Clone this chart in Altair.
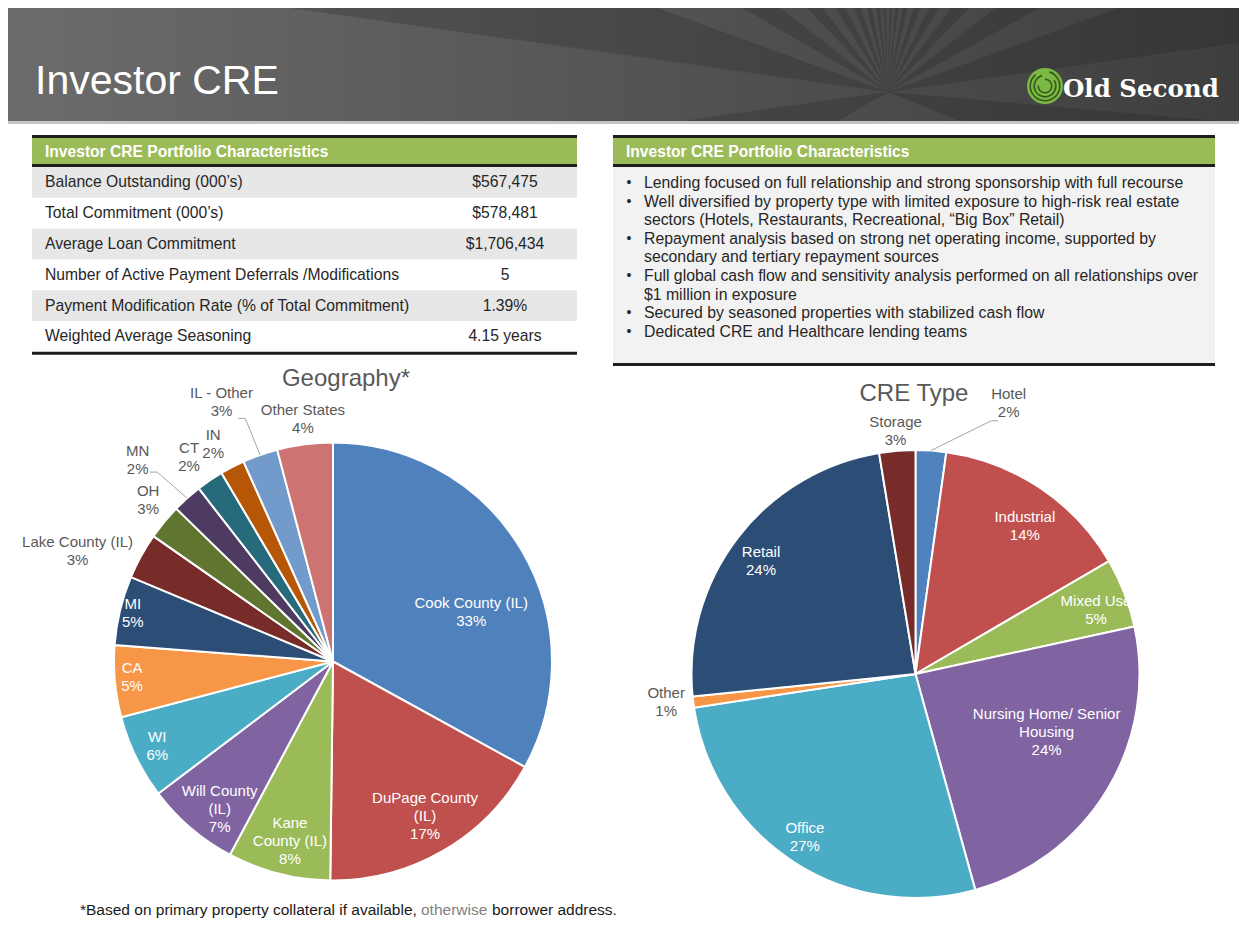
import math
import altair as alt
import pandas as pd

# ======================= data =======================
SLIDE_TITLE = "Investor CRE"
LOGO_TEXT = "Old Second"
BOX_TITLE = "Investor CRE  Portfolio Characteristics"

TABLE_LABELS = [
    "Balance Outstanding (000’s)",
    "Total Commitment (000’s)",
    "Average  Loan Commitment",
    "Number of Active  Payment Deferrals /Modifications",
    "Payment Modification Rate (% of Total Commitment)",
    "Weighted Average  Seasoning",
]
TABLE_VALUES = ["$567,475", "$578,481", "$1,706,434", "5", "1.39%", "4.15 years"]

BULLET_MARKS = ["•", "•", "", "•", "", "•", "", "•", "•"]
BULLET_LINES = [
    "Lending focused on full relationship and strong sponsorship with full recourse",
    "Well diversified by property type  with limited exposure to high-risk real estate",
    "sectors (Hotels, Restaurants, Recreational, “Big Box”  Retail)",
    "Repayment analysis based on strong net operating income, supported by",
    "secondary and tertiary  repayment sources",
    "Full global cash flow and sensitivity analysis performed on all relationships over",
    "$1 million in exposure",
    "Secured by  seasoned properties with stabilized cash flow",
    "Dedicated CRE and Healthcare lending teams",
]

GEO_TITLE = "Geography*"
GEO_NAMES = ["Cook County (IL)", "DuPage County (IL)", "Kane County (IL)", "Will County (IL)",
             "WI", "CA", "MI", "Lake County (IL)", "OH", "MN", "CT", "IN", "IL - Other", "Other States"]
GEO_LABELS = ["Cook County (IL)", "DuPage County\n(IL)", "Kane\nCounty (IL)", "Will County\n(IL)",
              "WI", "CA", "MI", "Lake County (IL)", "OH", "MN", "CT", "IN", "IL - Other", "Other States"]
GEO_VALUES = [33.0, 17.2, 7.6, 6.9, 6.2, 5.3, 5.1, 3.4, 2.6, 2.2, 2.0, 1.8, 2.6, 4.1]
GEO_COLORS = ["#4F81BD", "#C0504D", "#9BBB59", "#8064A2", "#4BACC6", "#F79646", "#2C4D75",
              "#772C2A", "#5F7530", "#4D3B62", "#276A7C", "#B65708", "#729ACA", "#CD7371"]

CRE_TITLE = "CRE Type"
CRE_NAMES = ["Hotel", "Industrial", "Mixed Use", "Nursing Home/ Senior Housing", "Office",
             "Other", "Retail", "Storage"]
CRE_LABELS = ["Hotel", "Industrial", "Mixed Use", "Nursing Home/ Senior\nHousing", "Office",
              "Other", "Retail", "Storage"]
CRE_VALUES = [2.2, 14.4, 5.0, 24.1, 26.9, 0.8, 24.0, 2.6]
CRE_COLORS = ["#4F81BD", "#C0504D", "#9BBB59", "#8064A2", "#4BACC6", "#F79646", "#2C4D75", "#772C2A"]

FOOT_1 = "*Based on primary property collateral if available,"
FOOT_2 = "otherwise"
FOOT_3 = "borrower address."

# ======================= layout =======================
W, H = 1231, 919
OX, OY = 8, 8            # page margin
FONT = "Liberation Sans"
TXT = "#262626"
LINE_H = 18


def X(v):
    return v - OX


def Y(v):
    return v - OY


# label radius (fraction of pie radius) and angle nudge (deg) per slice
GEO_LR = [0.67, 0.82, 0.843, 0.85, 0.89, 0.92, 0.94, 1.27, 1.12, 1.28, 1.14, 1.134, 1.29, 1.115]
GEO_LDA = [11, -0.6, -0.9, -3, 0.3, 0.8, 0, -5.5, 1.5, -2.4, -1.0, -1.5, -3.8, 0.3]
GEO_LEAD = [None] * 9 + [-1.1, None, None, -0.4, None]
CRE_LR = [1.28, 0.82, 0.855, 0.64, 0.88, 1.12, 0.855, 1.09]
CRE_LDA = [15, 2.7, 1.7, -7.3, 1.2, 0.8, -1.2, 0]
CRE_LEAD = [12.7, None, None, None, None, None, None, None]

# decorative sunburst in header (degrees clockwise from up)
RAYS = [(240, 262), (278, 290), (300, 308), (316, 322), (328, 333), (338, 342), (346, 349),
        (352, 354.5), (357, 358.5), (361, 362.5), (365, 367), (370, 373), (377, 381),
        (386, 391), (397, 404), (412, 421), (430, 442), (455, 472)]

one = pd.DataFrame({"k": [0]})


def rect(x1, y1, x2, y2, fill, **kw):
    return alt.Chart(one).mark_rect(fill=fill, **kw).encode(
        x=alt.value(X(x1)), x2=alt.value(X(x2)), y=alt.value(Y(y1)), y2=alt.value(Y(y2)))


def label(t, x, y, size, color=TXT, align="left", baseline="middle", weight="normal", font=FONT):
    return alt.Chart(one).mark_text(
        text=t, align=align, baseline=baseline, fontSize=size, color=color,
        fontWeight=weight, font=font).encode(x=alt.value(X(x)), y=alt.value(Y(y)))


layers = []

# ---------------- header ----------------
layers.append(rect(0, 0, 1247, 121, {
    "gradient": "linear", "x1": 0, "y1": 0, "x2": 1, "y2": 0,
    "stops": [{"offset": 0, "color": "#6c6c6c"}, {"offset": 0.55, "color": "#525252"},
              {"offset": 1, "color": "#3e3e3e"}]}))

ray_df = pd.DataFrame({"a1": [a for a, b in RAYS], "a2": [b for a, b in RAYS]})
layers.append(
    alt.Chart(ray_df).transform_calculate(
        r1="datum.a1 * PI / 180", r2="datum.a2 * PI / 180"
    ).mark_arc(outerRadius=1500, clip=True, fill="#1c1c1c", opacity=0.22).encode(
        theta=alt.Theta("r1:Q", scale=None, stack=None), theta2="r2:Q",
        x=alt.value(X(888)), y=alt.value(Y(92)))
)
layers.append(rect(0, 121, 1247, 935, "white"))
layers.append(rect(0, 121, 1247, 124, "#c4c4c4"))
layers.append(label(SLIDE_TITLE, 35, 94, 41, color="white", baseline="alphabetic"))

# logo
layers.append(alt.Chart(one).mark_arc(outerRadius=18, theta=0, theta2=6.2832, fill="#7CB844").encode(
    x=alt.value(X(1045)), y=alt.value(Y(86))))
for r_in, t1, t2 in [(14, 0.3, 5.6), (10, 1.0, 6.0), (6, 0.0, 4.8)]:
    layers.append(alt.Chart(one).mark_arc(innerRadius=r_in, outerRadius=r_in + 1.6, theta=t1, theta2=t2,
                                          fill="#35591c").encode(x=alt.value(X(1045)), y=alt.value(Y(86))))
layers.append(label(LOGO_TEXT, 1063, 97, 24.5, color="white", baseline="alphabetic",
                    weight="bold", font="DejaVu Serif"))

# ---------------- left table ----------------
TL, TR = 32, 577
ROW_TOP, ROW_H = 167, 30.8
layers.append(rect(TL, 135, TR, 138, "#1e1e1e"))
layers.append(rect(TL, 138, TR, 164, "#9BBB59"))
layers.append(rect(TL, 164, TR, 167, "#1e1e1e"))
tab_df = pd.DataFrame({"i": list(range(len(TABLE_LABELS))), "lab": TABLE_LABELS, "val": TABLE_VALUES})
tab = alt.Chart(tab_df).transform_calculate(
    y1=f"{Y(ROW_TOP)} + datum.i * {ROW_H}",
    y2=f"{Y(ROW_TOP)} + (datum.i + 1) * {ROW_H}",
    ym=f"{Y(ROW_TOP)} + (datum.i + 0.5) * {ROW_H}",
)
layers.append(tab.transform_filter("datum.i % 2 == 0").mark_rect(fill="#E7E7E7").encode(
    x=alt.value(X(TL)), x2=alt.value(X(TR)),
    y=alt.Y("y1:Q", scale=None, axis=None), y2="y2:Q"))
layers.append(rect(TL, ROW_TOP + 6 * ROW_H, TR, ROW_TOP + 6 * ROW_H + 3, "#1e1e1e"))
layers.append(tab.mark_text(align="left", baseline="middle", font=FONT, fontSize=15.7, color=TXT).encode(
    x=alt.value(X(45)), y=alt.Y("ym:Q", scale=None, axis=None), text="lab:N"))
layers.append(tab.mark_text(align="center", baseline="middle", font=FONT, fontSize=15.7, color=TXT).encode(
    x=alt.value(X(505)), y=alt.Y("ym:Q", scale=None, axis=None), text="val:N"))
layers.append(label(BOX_TITLE, 45, 151.5, 15.6, color="white", weight="bold"))

# ---------------- right box ----------------
BL, BR = 613, 1215
layers.append(rect(BL, 135, BR, 138, "#1e1e1e"))
layers.append(rect(BL, 138, BR, 164, "#9BBB59"))
layers.append(rect(BL, 164, BR, 167, "#1e1e1e"))
layers.append(rect(BL, 167, BR, 363, "#F2F2F2"))
layers.append(rect(BL, 363, BR, 366, "#1e1e1e"))
layers.append(label(BOX_TITLE, 626, 151.5, 15.6, color="white", weight="bold"))
bul_df = pd.DataFrame({"i": list(range(len(BULLET_LINES))), "m": BULLET_MARKS, "t": BULLET_LINES})
bul = alt.Chart(bul_df).transform_calculate(yy=f"{Y(183)} + datum.i * 18.6")
layers.append(bul.mark_text(align="left", baseline="middle", font=FONT, fontSize=15.8, color=TXT).encode(
    x=alt.value(X(644)), y=alt.Y("yy:Q", scale=None, axis=None), text="t:N"))
layers.append(bul.mark_text(align="center", baseline="middle", font=FONT, fontSize=14, color=TXT).encode(
    x=alt.value(X(629)), y=alt.Y("yy:Q", scale=None, axis=None), text="m:N"))


# ---------------- pies ----------------
def pie(labels, values, colors, lr, lda, lead, cx, cy, R):
    n = len(values)
    txts = [f"{l}\n{round(v)}%" for l, v in zip(labels, values)]
    df = pd.DataFrame({
        "i": list(range(n)), "v": values, "col": colors,
        "txt": txts, "nl": [t.count("\n") + 1 for t in txts],
        "lr": lr, "lda": lda,
        "lead": [d is not None for d in lead],
        "leadda": [d if d is not None else 0.0 for d in lead],
    })
    base = alt.Chart(df)
    out = [base.mark_arc(outerRadius=R, stroke="white", strokeWidth=2).encode(
        theta=alt.Theta("v:Q", stack=True), order=alt.Order("i:Q"),
        color=alt.Color("col:N", scale=None), x=alt.value(X(cx)), y=alt.value(Y(cy)))]
    polar = base.transform_window(
        cum="sum(v)", sort=[alt.SortField("i")], frame=[None, 0]
    ).transform_joinaggregate(tot="sum(v)").transform_calculate(
        mid="(datum.cum - datum.v / 2) / datum.tot * 2 * PI"
    ).transform_calculate(
        la="datum.mid + datum.lda * PI / 180"
    ).transform_calculate(
        lx=f"{X(cx)} + datum.lr * {R} * sin(datum.la)"
    ).transform_calculate(
        ly=f"{Y(cy)} - datum.lr * {R} * cos(datum.la)"
    ).transform_calculate(
        ty=f"datum.ly - (datum.nl - 1) * {LINE_H / 2}"
    )
    lead_t = polar.transform_filter("datum.lead").transform_calculate(
        sx=f"{X(cx)} + {R} * sin(datum.mid)"
    ).transform_calculate(
        sy=f"{Y(cy)} - {R} * cos(datum.mid)"
    ).transform_calculate(
        ea="datum.mid + datum.leadda * PI / 180"
    ).transform_calculate(
        ex=f"{X(cx)} + 1.18 * {R} * sin(datum.ea)"
    ).transform_calculate(
        ey=f"{Y(cy)} - 1.18 * {R} * cos(datum.ea)"
    ).transform_calculate(
        ex2="datum.ex + (datum.lx > datum.ex ? 7 : -7)"
    )
    out.append(lead_t.mark_rule(color="#A6A6A6", strokeWidth=1).encode(
        x=alt.X("sx:Q", scale=None, axis=None), y=alt.Y("sy:Q", scale=None, axis=None),
        x2="ex:Q", y2="ey:Q"))
    out.append(lead_t.mark_rule(color="#A6A6A6", strokeWidth=1).encode(
        x=alt.X("ex:Q", scale=None, axis=None), y=alt.Y("ey:Q", scale=None, axis=None),
        x2="ex2:Q", y2="ey:Q"))
    out.append(polar.mark_text(font=FONT, fontSize=15, lineBreak="\n", lineHeight=LINE_H,
                               align="center", baseline="middle").encode(
        x=alt.X("lx:Q", scale=None, axis=None), y=alt.Y("ty:Q", scale=None, axis=None),
        text="txt:N",
        color=alt.condition("datum.lr < 1", alt.value("white"), alt.value("#595959"))))
    return out


layers += pie(GEO_LABELS, GEO_VALUES, GEO_COLORS, GEO_LR, GEO_LDA, GEO_LEAD, 333, 661.5, 219)
layers += pie(CRE_LABELS, CRE_VALUES, CRE_COLORS, CRE_LR, CRE_LDA, CRE_LEAD, 915.5, 674, 224)
layers.append(label(GEO_TITLE, 346, 379, 24, color="#595959", align="center"))
layers.append(label(CRE_TITLE, 914, 394, 24, color="#595959", align="center"))

# ---------------- footnote ----------------
layers.append(label(FOOT_1, 80, 910, 15.5, color="#1a1a1a"))
layers.append(label(FOOT_2, 421, 910, 15.5, color="#7f7f7f"))
layers.append(label(FOOT_3, 492, 910, 15.5, color="#1a1a1a"))

chart = alt.layer(*layers).resolve_scale(theta="independent").properties(
    width=W, height=H, padding=0, autosize=alt.AutoSizeParams(type="none"),
).configure_view(stroke=None)

chart.save("out.html", embed_options={"renderer": "svg", "actions": False})
